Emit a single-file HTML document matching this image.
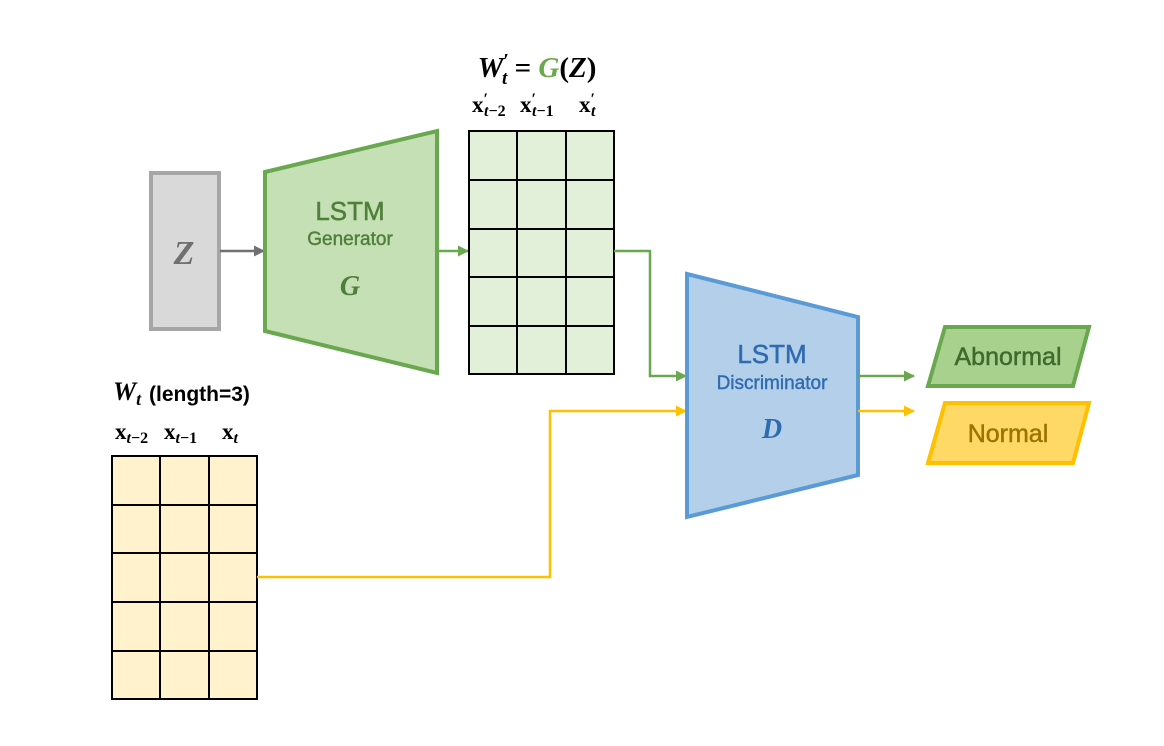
<!DOCTYPE html>
<html><head><style>body{margin:0;background:#fff}svg{display:block}</style></head><body>
<svg width="1164" height="746" viewBox="0 0 1164 746" xmlns="http://www.w3.org/2000/svg" font-family="Liberation Sans, sans-serif">
<defs>
<marker id="ag" markerWidth="11" markerHeight="11" refX="10" refY="5.5" orient="auto" markerUnits="userSpaceOnUse"><path d="M0,0 L11,5.5 L0,11z" fill="#6aa84f"/></marker>
<marker id="ay" markerWidth="11" markerHeight="11" refX="10" refY="5.5" orient="auto" markerUnits="userSpaceOnUse"><path d="M0,0 L11,5.5 L0,11z" fill="#ffc000"/></marker>
<marker id="ak" markerWidth="11" markerHeight="11" refX="10" refY="5.5" orient="auto" markerUnits="userSpaceOnUse"><path d="M0,0 L11,5.5 L0,11z" fill="#707070"/></marker>
</defs>
<rect x="151" y="173" width="68" height="156" fill="#d9d9d9" stroke="#a6a6a6" stroke-width="4"/>
<text x="184" y="264" text-anchor="middle" font-family="Liberation Serif, serif" font-style="italic" font-weight="bold" font-size="34" fill="#707070">Z</text>
<line x1="220" y1="251" x2="264" y2="251" stroke="#707070" stroke-width="2.5" marker-end="url(#ak)"/>
<polygon points="265,172 437,131 437,373 265,331" fill="#c5e0b4" stroke="#6aa84f" stroke-width="4"/>
<text x="350" y="220" text-anchor="middle" font-size="26" fill="#4f7f3a" stroke="#4f7f3a" stroke-width="0.5">LSTM</text>
<text x="350" y="245" text-anchor="middle" font-size="19" fill="#4f7f3a" stroke="#4f7f3a" stroke-width="0.4">Generator</text>
<text x="350" y="295" text-anchor="middle" font-family="Liberation Serif, serif" font-style="italic" font-weight="bold" font-size="28" fill="#4f7f3a">G</text>
<line x1="437" y1="251" x2="468" y2="251" stroke="#6aa84f" stroke-width="2.5" marker-end="url(#ag)"/>
<g stroke="#000" stroke-width="2" fill="#e2efd9">
<rect x="469" y="131" width="145" height="243"/>
<path d="M517,131V374M566,131V374M469,180H614M469,229H614M469,277H614M469,326H614" fill="none"/>
</g>
<g stroke="#000" stroke-width="2" fill="#fff2cc">
<rect x="112" y="456" width="145" height="243"/>
<path d="M160,456V699M209,456V699M112,505H257M112,553H257M112,602H257M112,651H257" fill="none"/>
</g>
<polyline points="614,251 650,251 650,376 686,376" fill="none" stroke="#6aa84f" stroke-width="2.5" marker-end="url(#ag)"/>
<polyline points="257,577 550,577 550,411 686,411" fill="none" stroke="#ffc000" stroke-width="2.5" marker-end="url(#ay)"/>
<polygon points="687,274 858,317 858,475 687,517" fill="#b4cfe9" stroke="#5b9bd5" stroke-width="4"/>
<text x="772" y="363" text-anchor="middle" font-size="26" fill="#2e6bb0" stroke="#2e6bb0" stroke-width="0.5">LSTM</text>
<text x="772" y="389" text-anchor="middle" font-size="19" fill="#2e6bb0" stroke="#2e6bb0" stroke-width="0.4">Discriminator</text>
<text x="772" y="438" text-anchor="middle" font-family="Liberation Serif, serif" font-style="italic" font-weight="bold" font-size="28" fill="#2e6bb0">D</text>
<line x1="858" y1="376" x2="914" y2="376" stroke="#6aa84f" stroke-width="2.5" marker-end="url(#ag)"/>
<line x1="858" y1="411" x2="914" y2="411" stroke="#ffc000" stroke-width="2.5" marker-end="url(#ay)"/>
<polygon points="945,327 1089,327 1073,386 928,386" fill="#a9d18e" stroke="#6aa84f" stroke-width="4"/>
<text x="1008" y="365" text-anchor="middle" font-size="25" fill="#3e6b2c" stroke="#3e6b2c" stroke-width="0.5">Abnormal</text>
<polygon points="945,403 1089,403 1073,463 928,463" fill="#ffd966" stroke="#ffc000" stroke-width="4"/>
<text x="1008" y="442" text-anchor="middle" font-size="25" fill="#9c7400" stroke="#9c7400" stroke-width="0.5">Normal</text>
<g font-family="Liberation Serif, serif" font-weight="bold" fill="#000">
<text x="537" y="77" text-anchor="middle" font-size="29"><tspan font-style="italic">W</tspan><tspan font-size="20" dy="-10">′</tspan><tspan font-style="italic" font-size="19" dx="-7" dy="17">t</tspan><tspan dy="-7"> = </tspan><tspan font-style="italic" fill="#6aa84f">G</tspan><tspan>(</tspan><tspan font-style="italic">Z</tspan><tspan>)</tspan></text>
<g font-size="23">
<text x="472" y="112">x<tspan font-size="16" dy="-8">′</tspan><tspan font-size="16" font-style="italic" dx="-4" dy="12">t</tspan><tspan font-size="16">−2</tspan></text>
<text x="520" y="112">x<tspan font-size="16" dy="-8">′</tspan><tspan font-size="16" font-style="italic" dx="-4" dy="12">t</tspan><tspan font-size="16">−1</tspan></text>
<text x="579" y="112">x<tspan font-size="16" dy="-8">′</tspan><tspan font-size="16" font-style="italic" dx="-4" dy="12">t</tspan></text>
<text x="115" y="439">x<tspan font-size="16" font-style="italic" dy="4">t</tspan><tspan font-size="16">−2</tspan></text>
<text x="164" y="439">x<tspan font-size="16" font-style="italic" dy="4">t</tspan><tspan font-size="16">−1</tspan></text>
<text x="222" y="439">x<tspan font-size="16" font-style="italic" dy="4">t</tspan></text>
</g>
<text x="113" y="400" font-size="26"><tspan font-style="italic">W</tspan><tspan font-style="italic" font-size="18" dy="5">t</tspan></text>
</g>
<text x="149" y="401" font-size="21" font-weight="bold" fill="#000">(length=3)</text>
</svg>
</body></html>
